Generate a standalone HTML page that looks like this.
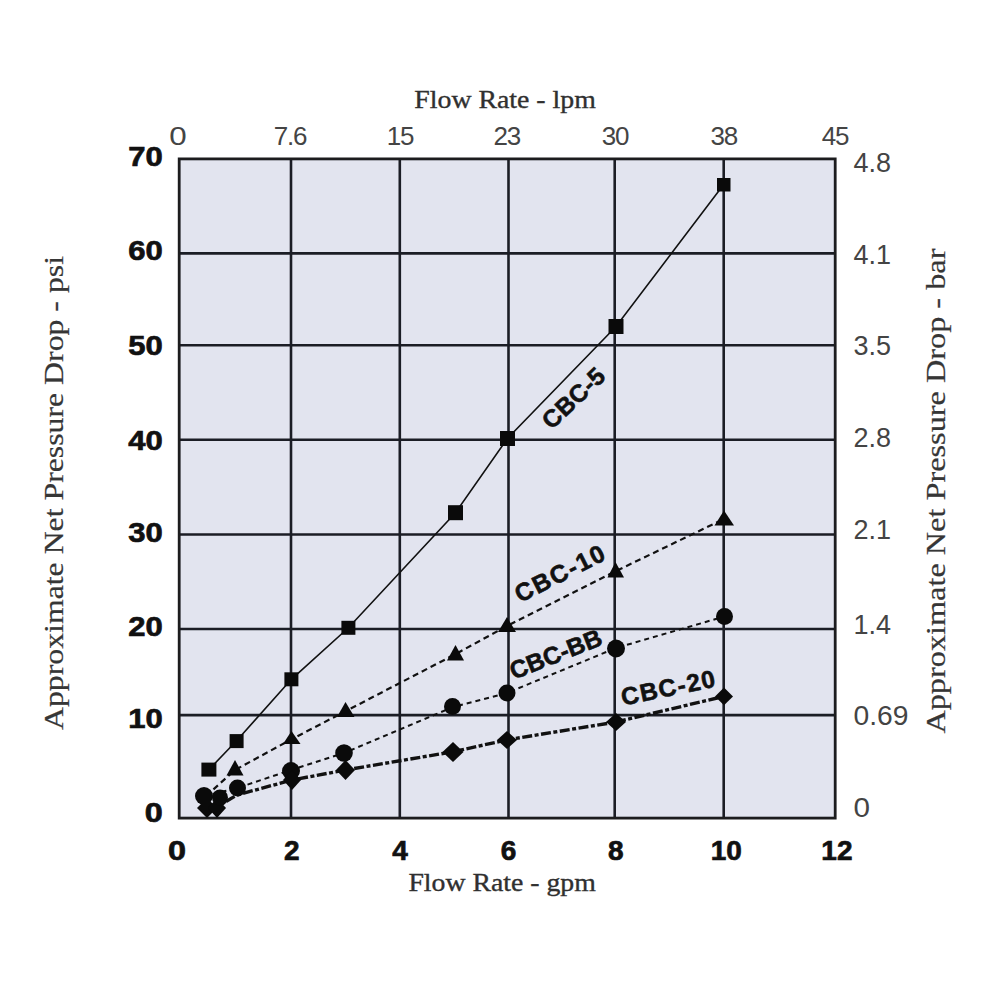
<!DOCTYPE html>
<html><head><meta charset="utf-8"><title>Flow Rate vs Pressure Drop</title>
<style>
html,body{margin:0;padding:0;background:#fff;width:1000px;height:1000px;overflow:hidden}
svg{display:block}
.serif{font-family:"Liberation Serif",serif;fill:#303030;stroke:#303030;stroke-width:0.35px}
.rot{font-family:"Liberation Serif",serif;fill:#363636;stroke:#363636;stroke-width:0.2px}
.lab{font-family:"Liberation Sans",sans-serif;fill:#444}
.bold{font-family:"Liberation Sans",sans-serif;font-weight:bold;fill:#111;stroke:#111;stroke-width:0.7px}
.ser{font-family:"Liberation Sans",sans-serif;font-weight:bold;fill:#111;stroke:#111;stroke-width:0.6px}
</style></head>
<body>
<svg width="1000" height="1000" viewBox="0 0 1000 1000">
<rect x="0" y="0" width="1000" height="1000" fill="#fff"/>
<!-- plot background -->
<rect x="179.2" y="158.9" width="656" height="659.2" fill="#e2e4ef"/>
<!-- grid -->
<g stroke="#1b1d25" stroke-width="2.6" fill="none">
<line x1="291" y1="158.9" x2="291" y2="818.1"/>
<line x1="399.8" y1="158.9" x2="399.8" y2="818.1"/>
<line x1="508.5" y1="158.9" x2="508.5" y2="818.1"/>
<line x1="614.7" y1="158.9" x2="614.7" y2="818.1"/>
<line x1="723.7" y1="158.9" x2="723.7" y2="818.1"/>
<line x1="179.2" y1="253.4" x2="835.2" y2="253.4"/>
<line x1="179.2" y1="345.2" x2="835.2" y2="345.2"/>
<line x1="179.2" y1="439.8" x2="835.2" y2="439.8"/>
<line x1="179.2" y1="534.5" x2="835.2" y2="534.5"/>
<line x1="179.2" y1="629" x2="835.2" y2="629"/>
<line x1="179.2" y1="715.1" x2="835.2" y2="715.1"/>
</g>
<rect x="179.2" y="158.9" width="656" height="659.2" fill="none" stroke="#1c1c1e" stroke-width="2.8"/>

<!-- series lines -->
<g fill="none" stroke="#111">
<polyline stroke-width="1.6" points="208.9,769.6 236.6,740.8 291.4,679.3 348.4,627.8 455.5,512.7 507.4,438.5 616,326.5 723.7,184.5"/>
<polyline stroke-width="2.2" stroke-dasharray="6 4" points="206,796 235,770 292,739 346,711 455.7,654 507,626 616,571 724,519"/>
<polyline stroke-width="2" stroke-dasharray="5 4" points="204,796 237.5,788 291,770 344,753 453,707 507,693 616,648 724.5,616.5"/>
<polyline stroke-width="3.4" stroke-dasharray="10 2.5 4 2.5" points="208,806 220,805 237,795 292,780 345.5,770 452.9,751.8 506.8,739.9 616,722 724,696.4"/>
</g>

<!-- markers -->
<g fill="#0a0a0a">
<!-- squares CBC-5 -->
<rect x="201.4" y="762.6" width="15" height="14"/>
<rect x="229.6" y="734.1" width="14" height="14"/>
<rect x="284.4" y="672.3" width="14" height="14"/>
<rect x="341.4" y="620.8" width="14" height="14"/>
<rect x="448" y="505.2" width="15" height="15"/>
<rect x="500" y="431" width="15" height="15"/>
<rect x="608.5" y="319" width="15" height="15"/>
<rect x="717" y="178" width="13.5" height="13.5"/>
<!-- triangles CBC-10 -->
<polygon points="235,760 226.5,775.5 243.5,775.5"/>
<polygon points="291.5,731 283,744 300.5,744"/>
<polygon points="345.5,702 337,717 354.5,717"/>
<polygon points="455.5,645 447,660.5 464,660.5"/>
<polygon points="507,617 498,632 516,632"/>
<polygon points="615.5,562 607.5,577.5 624,577.5"/>
<polygon points="724,510.5 714.5,525.5 734,525.5"/>
<!-- circles CBC-BB -->
<circle cx="204" cy="796" r="9"/>
<circle cx="237.5" cy="788" r="8.5"/>
<circle cx="291" cy="771" r="9"/>
<circle cx="344" cy="753" r="8.8"/>
<circle cx="452.5" cy="706.5" r="8.5"/>
<circle cx="507" cy="693" r="8.5"/>
<circle cx="616" cy="648.5" r="9"/>
<circle cx="724.5" cy="616.5" r="8.5"/>
<!-- diamonds CBC-20 -->
<polygon points="207,798 217,808 207,818 197,808"/>
<polygon points="217,798 226,808 217,818 208,808"/>
<circle cx="220" cy="797.5" r="8"/>
<polygon points="292,770 301,780 292,790 283,780"/>
<polygon points="345.5,760 355,770 345.5,780 336,770"/>
<polygon points="453,742 463.5,752 453,762 442.5,752"/>
<polygon points="507,731 517,740 507,749 497,740"/>
<polygon points="616,713 626,722 616,731 606,722"/>
<polygon points="724,687.5 733,696.4 724,705.3 715,696.4"/>
</g>

<!-- series labels -->
<g class="ser" font-size="24.5">
<text transform="translate(551.6,430.4) rotate(-43.4)" textLength="76.2">CBC-5</text>
<text transform="translate(520.1,603.1) rotate(-26.8)" textLength="97.4">CBC-10</text>
<text transform="translate(513.7,679.8) rotate(-21.5)" textLength="96.9">CBC-BB</text>
<text transform="translate(623.0,705.7) rotate(-11.6)" textLength="95.4">CBC-20</text>
</g>

<!-- titles -->
<text class="serif" x="414.3" y="108" font-size="25" textLength="181.5" lengthAdjust="spacingAndGlyphs">Flow Rate - lpm</text>
<text class="serif" x="408.4" y="890.6" font-size="24.5" textLength="187.4" lengthAdjust="spacingAndGlyphs">Flow Rate - gpm</text>
<text class="rot" font-size="27" textLength="474" lengthAdjust="spacingAndGlyphs" transform="translate(62.5,730) rotate(-90)">Approximate Net Pressure Drop - psi</text>
<text class="rot" font-size="27" textLength="485" lengthAdjust="spacingAndGlyphs" transform="translate(945,733.6) rotate(-90)">Approximate Net Pressure Drop - bar</text>

<!-- top axis labels -->
<g class="lab" font-size="26" letter-spacing="-1.2" text-anchor="middle">
<text x="177.3" y="144.8" textLength="16" lengthAdjust="spacingAndGlyphs">0</text>
<text x="290" y="144.8">7.6</text>
<text x="399.9" y="144.8">15</text>
<text x="506.7" y="144.8">23</text>
<text x="615" y="144.8">30</text>
<text x="723.7" y="144.8">38</text>
<text x="835" y="144.8">45</text>
</g>
<!-- right axis labels -->
<g class="lab" font-size="27">
<text x="853.5" y="171.5">4.8</text>
<text x="853.5" y="263.8">4.1</text>
<text x="853.5" y="355">3.5</text>
<text x="853.5" y="446.7">2.8</text>
<text x="853.5" y="538.7">2.1</text>
<text x="853.5" y="633.5">1.4</text>
<text x="853.5" y="725" textLength="55" lengthAdjust="spacingAndGlyphs">0.69</text>
<text x="853.5" y="816.7" textLength="16.5" lengthAdjust="spacingAndGlyphs">0</text>
</g>
<!-- left axis labels -->
<g class="bold" font-size="28" text-anchor="end">
<text x="162.8" y="166" textLength="34.5" lengthAdjust="spacingAndGlyphs">70</text>
<text x="162.8" y="260.1" textLength="34.5" lengthAdjust="spacingAndGlyphs">60</text>
<text x="162.8" y="354.6" textLength="34.5" lengthAdjust="spacingAndGlyphs">50</text>
<text x="162.8" y="450.1" textLength="34.5" lengthAdjust="spacingAndGlyphs">40</text>
<text x="162.8" y="541.8" textLength="34.5" lengthAdjust="spacingAndGlyphs">30</text>
<text x="162.8" y="635.9" textLength="34.5" lengthAdjust="spacingAndGlyphs">20</text>
<text x="162.8" y="727.6" textLength="34.5" lengthAdjust="spacingAndGlyphs">10</text>
<text x="162.8" y="822" textLength="18" lengthAdjust="spacingAndGlyphs">0</text>
</g>
<!-- bottom axis labels -->
<g class="bold" font-size="28" text-anchor="middle">
<text x="177.1" y="859.7" textLength="18" lengthAdjust="spacingAndGlyphs">0</text>
<text x="291.8" y="859.7">2</text>
<text x="400" y="859.7">4</text>
<text x="508.5" y="859.7">6</text>
<text x="615.7" y="859.7">8</text>
<text x="726.3" y="859.7">10</text>
<text x="836.9" y="859.7">12</text>
</g>
</svg>
</body></html>
